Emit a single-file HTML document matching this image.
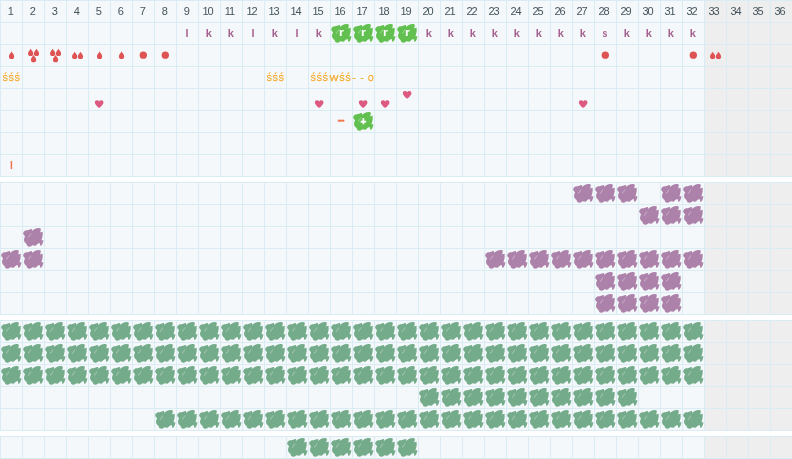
<!DOCTYPE html>
<html lang="en"><head><meta charset="utf-8"><title>Cycle chart</title>
<style>
html,body{margin:0;padding:0;background:#fff;}
body{width:792px;height:459px;position:relative;overflow:hidden;font-family:"Liberation Sans",sans-serif;}
.sec{position:absolute;left:0;width:792px;
background-image:linear-gradient(to right,#d9ebf3 1px,transparent 1px),linear-gradient(to bottom,#d9ebf3 1px,transparent 1px),linear-gradient(to right,#f4f8fa 704px,#eeeeee 704px);
background-size:22px 22px,22px 22px,100% 100%;}
.c{position:absolute;width:21px;height:21px;line-height:21px;text-align:center;white-space:nowrap;}
.n{font-size:11px;color:#45545c;letter-spacing:-1px;margin-left:-1.2px;}
.n2{margin-left:-2px;}
.k{font-size:11px;font-weight:bold;color:#a5628f;margin-left:-0.6px;}
.k b{display:inline-block;transform:scaleX(.8);}
.w{font-size:11px;font-weight:bold;color:#fff;transform:scaleX(1.15);margin-left:0.4px;margin-top:-0.7px;}
.s{font-size:9.5px;color:#f5a623;-webkit-text-stroke:0.25px #f5a623;}
.s b{font-weight:normal;display:inline-block;transform:scaleX(1.16);transform-origin:right center;margin-left:1.4px;}
.s i{font-style:normal;display:inline-block;transform:scaleX(.85);letter-spacing:0.72px;margin:0 -6px;}
.d{font-size:12px;font-weight:bold;color:#f2764a;-webkit-text-stroke:0.55px #f2764a;margin-top:-1px;transform:translate(-0.4px,0.4px);}
.pl{font-size:10px;font-weight:bold;color:#fff;-webkit-text-stroke:0.4px #fff;margin-top:-0.5px;margin-left:-0.1px;}
.ii{font-size:10px;font-weight:bold;color:#f2734a;}
.b{position:absolute;width:22px;height:22px;clip-path:path("M1.18,7.30 L1.57,6.00 L2.60,5.10 L3.90,4.30 L5.75,4.18 L7.84,3.53 L9.15,3.00 L10.07,3.27 L10.33,4.97 L11.20,3.96 L12.70,2.90 L14.60,2.13 L16.70,1.98 L18.50,2.13 L18.84,3.66 L18.40,5.20 L18.10,6.56 L20.06,5.64 L20.67,6.10 L20.67,9.15 L20.20,11.60 L19.60,13.66 L19.76,14.57 L21.40,14.10 L21.10,16.10 L20.40,17.90 L19.45,19.60 L18.20,19.76 L18.00,17.90 L17.60,17.00 L16.10,17.60 L14.90,18.60 L13.66,19.76 L11.80,19.60 L10.40,19.15 L9.15,20.20 L7.60,20.80 L6.10,20.50 L5.00,19.45 L4.57,17.90 L3.35,17.00 L2.30,15.50 L1.98,13.66 L2.44,11.80 L3.00,10.50 L2.88,9.90 L1.83,8.90 L1.18,7.84Z");}
.b::after{content:"";position:absolute;left:4.6px;top:8.7px;width:5.3px;height:0.7px;background:rgba(255,255,255,.33);transform:rotate(-53deg);}
.p{background:#ad82aa;} .g{background:#74ab8a;} .l{background:#62c050;}
svg{position:absolute;left:0;top:0;overflow:visible;}
</style></head>
<body>
<div class="sec" style="top:0;height:177px"><div class="c n" style="left:1px;top:1px;">1</div><div class="c n" style="left:23px;top:1px;">2</div><div class="c n" style="left:45px;top:1px;">3</div><div class="c n" style="left:67px;top:1px;">4</div><div class="c n" style="left:89px;top:1px;">5</div><div class="c n" style="left:111px;top:1px;">6</div><div class="c n" style="left:133px;top:1px;">7</div><div class="c n" style="left:155px;top:1px;">8</div><div class="c n" style="left:177px;top:1px;">9</div><div class="c n n2" style="left:199px;top:1px;">10</div><div class="c n n2" style="left:221px;top:1px;">11</div><div class="c n n2" style="left:243px;top:1px;">12</div><div class="c n n2" style="left:265px;top:1px;">13</div><div class="c n n2" style="left:287px;top:1px;">14</div><div class="c n n2" style="left:309px;top:1px;">15</div><div class="c n n2" style="left:331px;top:1px;">16</div><div class="c n n2" style="left:353px;top:1px;">17</div><div class="c n n2" style="left:375px;top:1px;">18</div><div class="c n n2" style="left:397px;top:1px;">19</div><div class="c n n2" style="left:419px;top:1px;">20</div><div class="c n n2" style="left:441px;top:1px;">21</div><div class="c n n2" style="left:463px;top:1px;">22</div><div class="c n n2" style="left:485px;top:1px;">23</div><div class="c n n2" style="left:507px;top:1px;">24</div><div class="c n n2" style="left:529px;top:1px;">25</div><div class="c n n2" style="left:551px;top:1px;">26</div><div class="c n n2" style="left:573px;top:1px;">27</div><div class="c n n2" style="left:595px;top:1px;">28</div><div class="c n n2" style="left:617px;top:1px;">29</div><div class="c n n2" style="left:639px;top:1px;">30</div><div class="c n n2" style="left:661px;top:1px;">31</div><div class="c n n2" style="left:683px;top:1px;">32</div><div class="c n n2" style="left:705px;top:1px;">33</div><div class="c n n2" style="left:727px;top:1px;">34</div><div class="c n n2" style="left:749px;top:1px;">35</div><div class="c n n2" style="left:771px;top:1px;">36</div><div class="c k" style="left:177px;top:23px;">l</div><div class="c k" style="left:199px;top:23px;">k</div><div class="c k" style="left:221px;top:23px;">k</div><div class="c k" style="left:243px;top:23px;">l</div><div class="c k" style="left:265px;top:23px;">k</div><div class="c k" style="left:287px;top:23px;">l</div><div class="c k" style="left:309px;top:23px;">k</div><div class="c k" style="left:419px;top:23px;">k</div><div class="c k" style="left:441px;top:23px;">k</div><div class="c k" style="left:463px;top:23px;">k</div><div class="c k" style="left:485px;top:23px;">k</div><div class="c k" style="left:507px;top:23px;">k</div><div class="c k" style="left:529px;top:23px;">k</div><div class="c k" style="left:551px;top:23px;">k</div><div class="c k" style="left:573px;top:23px;">k</div><div class="c k" style="left:595px;top:23px;"><b>s</b></div><div class="c k" style="left:617px;top:23px;">k</div><div class="c k" style="left:639px;top:23px;">k</div><div class="c k" style="left:661px;top:23px;">k</div><div class="c k" style="left:683px;top:23px;">k</div><div class="b l" style="left:330px;top:22px"></div><div class="c w" style="left:331px;top:23px;">r</div><div class="b l" style="left:352px;top:22px"></div><div class="c w" style="left:353px;top:23px;">r</div><div class="b l" style="left:374px;top:22px"></div><div class="c w" style="left:375px;top:23px;">r</div><div class="b l" style="left:396px;top:22px"></div><div class="c w" style="left:397px;top:23px;">r</div><div class="c s" style="left:1px;top:67px;"><i>ŚŚŚ</i></div><div class="c s" style="left:265px;top:67px;"><i>ŚŚŚ</i></div><div class="c s" style="left:309px;top:67px;"><i>ŚŚŚ</i></div><div class="c s" style="left:331px;top:67px;margin-left:-0.9px;"><i><b>W</b>ŚŚ</i></div><div class="c s" style="left:353px;top:67px;text-align:left"><span style="position:absolute;left:-0.6px">-</span><span style="position:absolute;left:7.5px">-</span><span style="position:absolute;left:15.3px;transform:scaleX(0.76);transform-origin:left center">O</span></div><div class="b l" style="left:352px;top:110px"></div><div class="c d" style="left:331px;top:111px;">–</div><div class="c pl" style="left:353px;top:111px;">+</div><div class="c ii" style="left:1px;top:155px;">I</div><svg width="792" height="177" viewBox="0 0 792 177"><path fill="#de5353" d="M11.55,51.60 C12.45,53.20 14.17,54.60 14.17,56.38 A2.62,2.62 0 1 1 8.93,56.38 C8.93,54.60 10.65,53.20 11.55,51.60Z"/><path fill="#de5353" d="M99.55,51.60 C100.45,53.20 102.17,54.60 102.17,56.38 A2.62,2.62 0 1 1 96.93,56.38 C96.93,54.60 98.65,53.20 99.55,51.60Z"/><path fill="#de5353" d="M121.55,51.60 C122.45,53.20 124.17,54.60 124.17,56.38 A2.62,2.62 0 1 1 118.93,56.38 C118.93,54.60 120.65,53.20 121.55,51.60Z"/><path fill="#de5353" d="M30.65,48.70 C31.55,50.30 33.27,51.70 33.27,53.48 A2.62,2.62 0 1 1 28.03,53.48 C28.03,51.70 29.75,50.30 30.65,48.70Z"/><path fill="#de5353" d="M36.50,48.70 C37.40,50.30 39.12,51.70 39.12,53.48 A2.62,2.62 0 1 1 33.88,53.48 C33.88,51.70 35.60,50.30 36.50,48.70Z"/><path fill="#de5353" d="M33.55,54.90 C34.45,56.50 36.17,57.90 36.17,59.68 A2.62,2.62 0 1 1 30.93,59.68 C30.93,57.90 32.65,56.50 33.55,54.90Z"/><path fill="#de5353" d="M52.65,48.70 C53.55,50.30 55.27,51.70 55.27,53.48 A2.62,2.62 0 1 1 50.03,53.48 C50.03,51.70 51.75,50.30 52.65,48.70Z"/><path fill="#de5353" d="M58.50,48.70 C59.40,50.30 61.12,51.70 61.12,53.48 A2.62,2.62 0 1 1 55.88,53.48 C55.88,51.70 57.60,50.30 58.50,48.70Z"/><path fill="#de5353" d="M55.55,54.90 C56.45,56.50 58.17,57.90 58.17,59.68 A2.62,2.62 0 1 1 52.93,59.68 C52.93,57.90 54.65,56.50 55.55,54.90Z"/><path fill="#de5353" d="M74.65,51.70 C75.55,53.30 77.27,54.70 77.27,56.48 A2.62,2.62 0 1 1 72.03,56.48 C72.03,54.70 73.75,53.30 74.65,51.70Z"/><path fill="#de5353" d="M80.50,51.70 C81.40,53.30 83.12,54.70 83.12,56.48 A2.62,2.62 0 1 1 77.88,56.48 C77.88,54.70 79.60,53.30 80.50,51.70Z"/><path fill="#de5353" d="M712.65,51.70 C713.55,53.30 715.27,54.70 715.27,56.48 A2.62,2.62 0 1 1 710.03,56.48 C710.03,54.70 711.75,53.30 712.65,51.70Z"/><path fill="#de5353" d="M718.50,51.70 C719.40,53.30 721.12,54.70 721.12,56.48 A2.62,2.62 0 1 1 715.88,56.48 C715.88,54.70 717.60,53.30 718.50,51.70Z"/><circle fill="#de5353" cx="143.3" cy="55.2" r="3.65"/><circle fill="#de5353" cx="165.3" cy="55.2" r="3.65"/><circle fill="#de5353" cx="605.3" cy="55.2" r="3.65"/><circle fill="#de5353" cx="693.3" cy="55.2" r="3.65"/><path fill="#dc5a82" transform="translate(94.85,100.20)" d="M4.3,7.8 C4.3,7.8 0,4.7 0,2.3 C0,0.9 1,0 2.2,0 C3.1,0 3.9,0.5 4.3,1.3 C4.7,0.5 5.5,0 6.4,0 C7.6,0 8.6,0.9 8.6,2.3 C8.6,4.7 4.3,7.8 4.3,7.8Z"/><path fill="#dc5a82" transform="translate(314.85,100.20)" d="M4.3,7.8 C4.3,7.8 0,4.7 0,2.3 C0,0.9 1,0 2.2,0 C3.1,0 3.9,0.5 4.3,1.3 C4.7,0.5 5.5,0 6.4,0 C7.6,0 8.6,0.9 8.6,2.3 C8.6,4.7 4.3,7.8 4.3,7.8Z"/><path fill="#dc5a82" transform="translate(358.85,100.20)" d="M4.3,7.8 C4.3,7.8 0,4.7 0,2.3 C0,0.9 1,0 2.2,0 C3.1,0 3.9,0.5 4.3,1.3 C4.7,0.5 5.5,0 6.4,0 C7.6,0 8.6,0.9 8.6,2.3 C8.6,4.7 4.3,7.8 4.3,7.8Z"/><path fill="#dc5a82" transform="translate(380.85,100.20)" d="M4.3,7.8 C4.3,7.8 0,4.7 0,2.3 C0,0.9 1,0 2.2,0 C3.1,0 3.9,0.5 4.3,1.3 C4.7,0.5 5.5,0 6.4,0 C7.6,0 8.6,0.9 8.6,2.3 C8.6,4.7 4.3,7.8 4.3,7.8Z"/><path fill="#dc5a82" transform="translate(578.85,100.20)" d="M4.3,7.8 C4.3,7.8 0,4.7 0,2.3 C0,0.9 1,0 2.2,0 C3.1,0 3.9,0.5 4.3,1.3 C4.7,0.5 5.5,0 6.4,0 C7.6,0 8.6,0.9 8.6,2.3 C8.6,4.7 4.3,7.8 4.3,7.8Z"/><path fill="#dc5a82" transform="translate(402.85,90.90)" d="M4.3,7.8 C4.3,7.8 0,4.7 0,2.3 C0,0.9 1,0 2.2,0 C3.1,0 3.9,0.5 4.3,1.3 C4.7,0.5 5.5,0 6.4,0 C7.6,0 8.6,0.9 8.6,2.3 C8.6,4.7 4.3,7.8 4.3,7.8Z"/></svg></div>
<div class="sec" style="top:182px;height:133px"><div class="b p" style="left:572px;top:0px"></div><div class="b p" style="left:594px;top:0px"></div><div class="b p" style="left:616px;top:0px"></div><div class="b p" style="left:660px;top:0px"></div><div class="b p" style="left:682px;top:0px"></div><div class="b p" style="left:638px;top:22px"></div><div class="b p" style="left:660px;top:22px"></div><div class="b p" style="left:682px;top:22px"></div><div class="b p" style="left:22px;top:44px"></div><div class="b p" style="left:0px;top:66px"></div><div class="b p" style="left:22px;top:66px"></div><div class="b p" style="left:484px;top:66px"></div><div class="b p" style="left:506px;top:66px"></div><div class="b p" style="left:528px;top:66px"></div><div class="b p" style="left:550px;top:66px"></div><div class="b p" style="left:572px;top:66px"></div><div class="b p" style="left:594px;top:66px"></div><div class="b p" style="left:616px;top:66px"></div><div class="b p" style="left:638px;top:66px"></div><div class="b p" style="left:660px;top:66px"></div><div class="b p" style="left:682px;top:66px"></div><div class="b p" style="left:594px;top:88px"></div><div class="b p" style="left:616px;top:88px"></div><div class="b p" style="left:638px;top:88px"></div><div class="b p" style="left:660px;top:88px"></div><div class="b p" style="left:594px;top:110px"></div><div class="b p" style="left:616px;top:110px"></div><div class="b p" style="left:638px;top:110px"></div><div class="b p" style="left:660px;top:110px"></div></div>
<div class="sec" style="top:320px;height:111px"><div class="b g" style="left:0px;top:0px"></div><div class="b g" style="left:22px;top:0px"></div><div class="b g" style="left:44px;top:0px"></div><div class="b g" style="left:66px;top:0px"></div><div class="b g" style="left:88px;top:0px"></div><div class="b g" style="left:110px;top:0px"></div><div class="b g" style="left:132px;top:0px"></div><div class="b g" style="left:154px;top:0px"></div><div class="b g" style="left:176px;top:0px"></div><div class="b g" style="left:198px;top:0px"></div><div class="b g" style="left:220px;top:0px"></div><div class="b g" style="left:242px;top:0px"></div><div class="b g" style="left:264px;top:0px"></div><div class="b g" style="left:286px;top:0px"></div><div class="b g" style="left:308px;top:0px"></div><div class="b g" style="left:330px;top:0px"></div><div class="b g" style="left:352px;top:0px"></div><div class="b g" style="left:374px;top:0px"></div><div class="b g" style="left:396px;top:0px"></div><div class="b g" style="left:418px;top:0px"></div><div class="b g" style="left:440px;top:0px"></div><div class="b g" style="left:462px;top:0px"></div><div class="b g" style="left:484px;top:0px"></div><div class="b g" style="left:506px;top:0px"></div><div class="b g" style="left:528px;top:0px"></div><div class="b g" style="left:550px;top:0px"></div><div class="b g" style="left:572px;top:0px"></div><div class="b g" style="left:594px;top:0px"></div><div class="b g" style="left:616px;top:0px"></div><div class="b g" style="left:638px;top:0px"></div><div class="b g" style="left:660px;top:0px"></div><div class="b g" style="left:682px;top:0px"></div><div class="b g" style="left:0px;top:22px"></div><div class="b g" style="left:22px;top:22px"></div><div class="b g" style="left:44px;top:22px"></div><div class="b g" style="left:66px;top:22px"></div><div class="b g" style="left:88px;top:22px"></div><div class="b g" style="left:110px;top:22px"></div><div class="b g" style="left:132px;top:22px"></div><div class="b g" style="left:154px;top:22px"></div><div class="b g" style="left:176px;top:22px"></div><div class="b g" style="left:198px;top:22px"></div><div class="b g" style="left:220px;top:22px"></div><div class="b g" style="left:242px;top:22px"></div><div class="b g" style="left:264px;top:22px"></div><div class="b g" style="left:286px;top:22px"></div><div class="b g" style="left:308px;top:22px"></div><div class="b g" style="left:330px;top:22px"></div><div class="b g" style="left:352px;top:22px"></div><div class="b g" style="left:374px;top:22px"></div><div class="b g" style="left:396px;top:22px"></div><div class="b g" style="left:418px;top:22px"></div><div class="b g" style="left:440px;top:22px"></div><div class="b g" style="left:462px;top:22px"></div><div class="b g" style="left:484px;top:22px"></div><div class="b g" style="left:506px;top:22px"></div><div class="b g" style="left:528px;top:22px"></div><div class="b g" style="left:550px;top:22px"></div><div class="b g" style="left:572px;top:22px"></div><div class="b g" style="left:594px;top:22px"></div><div class="b g" style="left:616px;top:22px"></div><div class="b g" style="left:638px;top:22px"></div><div class="b g" style="left:660px;top:22px"></div><div class="b g" style="left:682px;top:22px"></div><div class="b g" style="left:0px;top:44px"></div><div class="b g" style="left:22px;top:44px"></div><div class="b g" style="left:44px;top:44px"></div><div class="b g" style="left:66px;top:44px"></div><div class="b g" style="left:88px;top:44px"></div><div class="b g" style="left:110px;top:44px"></div><div class="b g" style="left:132px;top:44px"></div><div class="b g" style="left:154px;top:44px"></div><div class="b g" style="left:176px;top:44px"></div><div class="b g" style="left:198px;top:44px"></div><div class="b g" style="left:220px;top:44px"></div><div class="b g" style="left:242px;top:44px"></div><div class="b g" style="left:264px;top:44px"></div><div class="b g" style="left:286px;top:44px"></div><div class="b g" style="left:308px;top:44px"></div><div class="b g" style="left:330px;top:44px"></div><div class="b g" style="left:352px;top:44px"></div><div class="b g" style="left:374px;top:44px"></div><div class="b g" style="left:396px;top:44px"></div><div class="b g" style="left:418px;top:44px"></div><div class="b g" style="left:440px;top:44px"></div><div class="b g" style="left:462px;top:44px"></div><div class="b g" style="left:484px;top:44px"></div><div class="b g" style="left:506px;top:44px"></div><div class="b g" style="left:528px;top:44px"></div><div class="b g" style="left:550px;top:44px"></div><div class="b g" style="left:572px;top:44px"></div><div class="b g" style="left:594px;top:44px"></div><div class="b g" style="left:616px;top:44px"></div><div class="b g" style="left:638px;top:44px"></div><div class="b g" style="left:660px;top:44px"></div><div class="b g" style="left:682px;top:44px"></div><div class="b g" style="left:418px;top:66px"></div><div class="b g" style="left:440px;top:66px"></div><div class="b g" style="left:462px;top:66px"></div><div class="b g" style="left:484px;top:66px"></div><div class="b g" style="left:506px;top:66px"></div><div class="b g" style="left:528px;top:66px"></div><div class="b g" style="left:550px;top:66px"></div><div class="b g" style="left:572px;top:66px"></div><div class="b g" style="left:594px;top:66px"></div><div class="b g" style="left:616px;top:66px"></div><div class="b g" style="left:154px;top:88px"></div><div class="b g" style="left:176px;top:88px"></div><div class="b g" style="left:198px;top:88px"></div><div class="b g" style="left:220px;top:88px"></div><div class="b g" style="left:242px;top:88px"></div><div class="b g" style="left:264px;top:88px"></div><div class="b g" style="left:286px;top:88px"></div><div class="b g" style="left:308px;top:88px"></div><div class="b g" style="left:330px;top:88px"></div><div class="b g" style="left:352px;top:88px"></div><div class="b g" style="left:374px;top:88px"></div><div class="b g" style="left:396px;top:88px"></div><div class="b g" style="left:418px;top:88px"></div><div class="b g" style="left:440px;top:88px"></div><div class="b g" style="left:462px;top:88px"></div><div class="b g" style="left:484px;top:88px"></div><div class="b g" style="left:506px;top:88px"></div><div class="b g" style="left:528px;top:88px"></div><div class="b g" style="left:550px;top:88px"></div><div class="b g" style="left:572px;top:88px"></div><div class="b g" style="left:594px;top:88px"></div><div class="b g" style="left:616px;top:88px"></div><div class="b g" style="left:638px;top:88px"></div><div class="b g" style="left:660px;top:88px"></div><div class="b g" style="left:682px;top:88px"></div></div>
<div class="sec" style="top:436px;height:23px"><div class="b g" style="left:286px;top:0px"></div><div class="b g" style="left:308px;top:0px"></div><div class="b g" style="left:330px;top:0px"></div><div class="b g" style="left:352px;top:0px"></div><div class="b g" style="left:374px;top:0px"></div><div class="b g" style="left:396px;top:0px"></div></div>
</body></html>
